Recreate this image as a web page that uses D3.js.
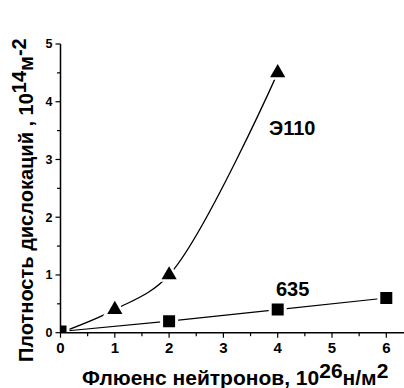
<!DOCTYPE html>
<html><head><meta charset="utf-8">
<script src="https://cdn.jsdelivr.net/npm/d3@7/dist/d3.min.js"></script>
<style>body{margin:0;background:#fff}svg{display:block}text{font-family:"Liberation Sans",Arial,sans-serif;font-weight:bold}</style>
</head><body>
<script>
const xTicks = [0,1,2,3,4,5,6];
const yTicks = [0,1,2,3,4,5];
const seriesE110 = [[0,0],[1,0.4],[2,1.0],[4,4.5]];
const series635 = [[0,0.02],[2,0.2],[4,0.4],[6,0.6]];
const seriesLabels = ["Э110","635"];

const W=404,H=388;
const svg=d3.select("body").append("svg").attr("width",W).attr("height",H);
const x=d3.scaleLinear().domain([0,6]).range([60.5,386.3]);
const y=d3.scaleLinear().domain([0,5]).range([332.7,44]);

svg.append("defs").append("clipPath").attr("id","clip").append("rect")
  .attr("x",x(0)).attr("y",0).attr("width",W-x(0)).attr("height",y(0));

// lines
const g=svg.append("g").attr("clip-path","url(#clip)");
g.append("path").datum(seriesE110)
 .attr("d",d3.line().x(d=>x(d[0])).y(d=>y(d[1])).curve(d3.curveCatmullRom.alpha(0.5)))
 .attr("fill","none").attr("stroke","#000").attr("stroke-width",1.3);
g.append("path").datum(series635).attr("d",d3.line().x(d=>x(d[0])).y(d=>y(d[1])))
 .attr("fill","none").attr("stroke","#000").attr("stroke-width",1.1);

// markers
g.selectAll(".tri").data(seriesE110.slice(1)).join("path")
 .attr("transform",d=>`translate(${x(d[0])},${y(d[1])})`)
 .attr("d",d3.symbol(d3.symbolTriangle,100)).attr("fill","#000")
 .attr("stroke","#fff").attr("stroke-width",5).attr("paint-order","stroke");
g.selectAll(".sq").data(series635).join("path")
 .attr("transform",d=>`translate(${x(d[0])},${y(d[1])})`)
 .attr("d",d3.symbol(d3.symbolSquare,144)).attr("fill","#000")
 .attr("stroke","#fff").attr("stroke-width",6).attr("paint-order","stroke");

// axes
const xAxis=svg.append("g").attr("transform",`translate(0,${y(0)})`);
xAxis.append("line").attr("x1",x(0)).attr("x2",W).attr("stroke","#000").attr("stroke-width",1.5);
const xMinor=d3.range(0,6.6,0.5);
xAxis.selectAll(".mt").data(xMinor).join("line")
 .attr("x1",d=>x(d)).attr("x2",d=>x(d)).attr("y1",0).attr("y2",d=>Number.isInteger(d)?5:3.5)
 .attr("stroke","#000").attr("stroke-width",1.2);
xAxis.selectAll(".tl").data(xTicks).join("text")
 .attr("x",d=>x(d)).attr("y",20.8).attr("text-anchor","middle").attr("font-size",15).text(d=>d);

const yAxis=svg.append("g").attr("transform",`translate(${x(0)},0)`);
yAxis.append("line").attr("y1",y(0)).attr("y2",y(5)).attr("stroke","#000").attr("stroke-width",1.5);
const yMinor=d3.range(0,5.01,0.5);
yAxis.selectAll(".mt").data(yMinor).join("line")
 .attr("y1",d=>y(d)).attr("y2",d=>y(d)).attr("x1",0).attr("x2",d=>Number.isInteger(d)?-5:-3.5)
 .attr("stroke","#000").attr("stroke-width",1.2);
yAxis.selectAll(".tl").data(yTicks).join("text")
 .attr("x",-8).attr("y",d=>y(d)+4.3).attr("text-anchor","end").attr("font-size",12.5).text(d=>d);

// series labels
svg.append("text").attr("x",269).attr("y",135).attr("font-size",20).text(seriesLabels[0]);
svg.append("text").attr("x",276).attr("y",296).attr("font-size",20).text(seriesLabels[1]);

// x title
const xt=svg.append("text").attr("x",82).attr("y",385).attr("font-size",21);
xt.append("tspan").text("Флюенс нейтронов, 10");
xt.append("tspan").attr("dy",-7).text("26");
xt.append("tspan").attr("dy",7).text("н/м");
xt.append("tspan").attr("dy",-7).text("2");

// y title
const yt=svg.append("text").attr("transform","translate(33,362) rotate(-90)").attr("font-size",20);
yt.append("tspan").text("Плотность дислокаций , 10");
yt.append("tspan").attr("dy",-7).text("14");
yt.append("tspan").attr("dy",7).text("м");
yt.append("tspan").attr("dy",-7).text("-2");
</script>
</body></html>
